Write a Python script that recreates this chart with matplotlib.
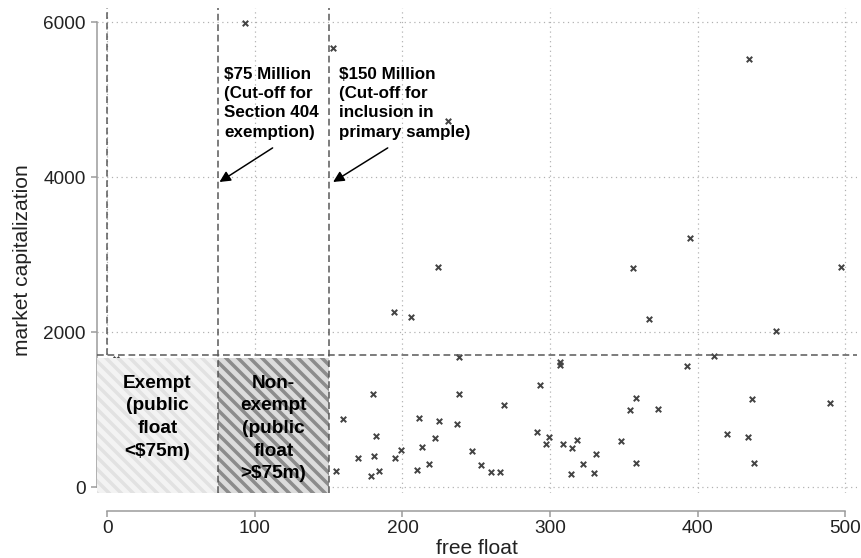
import matplotlib
matplotlib.use("Agg")
import matplotlib.pyplot as plt
from matplotlib.patches import Rectangle

plt.rcParams['font.family'] = ['Liberation Sans', 'DejaVu Sans']
plt.rcParams['hatch.linewidth'] = 3.5

# firms: free float vs market capitalization ($m)
free_float = [93, 153, 231, 224, 194, 206, 238, 238, 180, 160, 182, 155, 170, 181,
              179, 184, 195, 199, 211, 213, 210, 218, 222, 225, 237, 247, 253, 260,
              266, 269, 293, 291, 297, 299, 307, 307, 309, 315, 318, 314, 322, 331,
              330, 395, 356, 367, 497, 453, 411, 393, 358, 354, 373, 348, 358, 437,
              420, 434, 438, 490, 435, 6]
market_cap = [5990, 5670, 4730, 2845, 2265, 2190, 1675, 1205, 1205, 875, 660, 205, 375, 395,
              145, 210, 380, 475, 890, 520, 215, 295, 630, 850, 810, 460, 285, 200,
              195, 1055, 1320, 715, 555, 645, 1620, 1575, 555, 505, 605, 165, 295, 425,
              180, 3210, 2830, 2170, 2840, 2015, 1695, 1565, 1150, 990, 1005, 600, 310, 1135,
              680, 645, 310, 1085, 5525, 1660]

exempt_cutoff = 75
sample_cutoff = 150
cap_line = 1700

x_ticks = [0, 100, 200, 300, 400, 500]
y_ticks = [0, 2000, 4000, 6000]

xmin, xmax = -7, 508
ymin, ymax = -77, 6187

fig = plt.figure(figsize=(861 / 72, 558 / 72), dpi=72)
ax = fig.add_axes([97 / 861, 65 / 558, 760 / 861, 485 / 558])
ax.set_xlim(xmin, xmax)
ax.set_ylim(ymin, ymax)

# dotted grid
ax.set_xticks(x_ticks)
ax.set_yticks(y_ticks)
ax.grid(True, color='#b0b0b0', linestyle=(0, (1, 3)), linewidth=1.2, zorder=0)
ax.set_axisbelow(True)

# scatter
ax.scatter(free_float, market_cap, marker='x', s=30, color='#444444',
           linewidths=2.0, zorder=2)

# shaded regions
patch_top = 1670
ax.add_patch(Rectangle((xmin, ymin), exempt_cutoff - xmin, patch_top - ymin,
                       facecolor='#f3f3f3', edgecolor='#e2e2e2', hatch='\\\\',
                       linewidth=0, zorder=3))
ax.add_patch(Rectangle((exempt_cutoff, ymin), sample_cutoff - exempt_cutoff, patch_top - ymin,
                       facecolor='#dcdcdc', edgecolor='#8c8c8c', hatch='\\\\',
                       linewidth=0, zorder=3))

# cut-off lines
dash = (0, (4.5, 2.5))
ax.axvline(exempt_cutoff, color='#555555', linestyle=dash, linewidth=1.5, zorder=4)
ax.axvline(sample_cutoff, color='#555555', linestyle=dash, linewidth=1.5, zorder=4)
ax.plot([0, 0], [cap_line, ymax], color='#555555', linestyle=dash, linewidth=1.5, zorder=4)
ax.axhline(cap_line, color='#555555', linestyle=dash, linewidth=1.5, zorder=4)

# region labels
ax.text((xmin + exempt_cutoff) / 2, 1450, 'Exempt\n(public\nfloat\n<\\$75m)',
        ha='center', va='top', fontsize=19, fontweight='bold', linespacing=1.43, zorder=5)
ax.text((exempt_cutoff + sample_cutoff) / 2, 1450, 'Non-\nexempt\n(public\nfloat\n>\\$75m)',
        ha='center', va='top', fontsize=19, fontweight='bold', linespacing=1.43, zorder=5)

# cut-off annotations
ax.text(79, 5430, '\\$75 Million\n(Cut-off for\nSection 404\nexemption)',
        ha='left', va='top', fontsize=17, fontweight='bold', linespacing=1.36, zorder=5)
ax.text(157, 5430, '\\$150 Million\n(Cut-off for\ninclusion in\nprimary sample)',
        ha='left', va='top', fontsize=17, fontweight='bold', linespacing=1.36, zorder=5)
arrow = dict(arrowstyle='-|>,head_length=0.9,head_width=0.45', color='black',
             lw=1.5, shrinkA=0, shrinkB=0)
ax.annotate('', xy=(76, 3940), xytext=(112, 4380), arrowprops=arrow, zorder=5)
ax.annotate('', xy=(153, 3940), xytext=(190, 4380), arrowprops=arrow, zorder=5)

# axes styling
for side in ['top', 'right']:
    ax.spines[side].set_visible(False)
ax.spines['bottom'].set_position(('outward', 18))
ax.spines['bottom'].set_bounds(0, 500)
ax.spines['left'].set_bounds(0, 6000)
for side in ['bottom', 'left']:
    ax.spines[side].set_color('#999999')
    ax.spines[side].set_linewidth(1.5)
ax.tick_params(colors='#999999', width=1.5, length=6, labelsize=19,
               labelcolor='#222222')
ax.tick_params(axis='y', pad=5)
ax.tick_params(axis='x', pad=3)

ax.set_xlabel('free float', fontsize=21, color='#222222')
ax.set_ylabel('market capitalization', fontsize=21, color='#222222')
ax.xaxis.label.set_va('center')
ax.yaxis.label.set_va('center')
ax.xaxis.set_label_coords(0.5, (10 - 65) / 485)
ax.yaxis.set_label_coords((22 - 97) / 760, (558 - 260 - 65) / 485)

fig.savefig('out.png', dpi=72)
